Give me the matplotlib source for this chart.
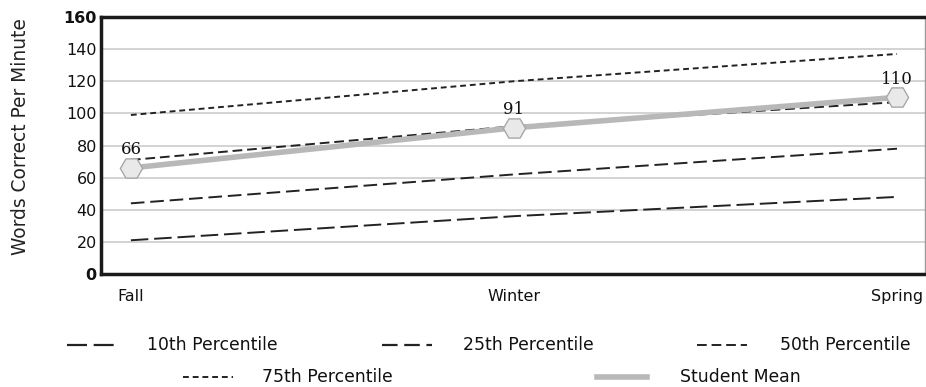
import matplotlib.pyplot as plt
from matplotlib.lines import Line2D

# Oral reading fluency benchmarks across the school year
seasons = ['Fall', 'Winter', 'Spring']
p10 = [21, 36, 48]
p25 = [44, 62, 78]
p50 = [71, 92, 107]
p75 = [99, 120, 137]
student_mean = [66, 91, 110]

fig = plt.figure(figsize=(9.26, 3.87), dpi=100)
ax = fig.add_axes([101 / 926, 1 - 274 / 387, 824 / 926, 257 / 387])

x = list(range(len(seasons)))
styles = {
    '10th Percentile': (p10, (0, (9, 3))),
    '25th Percentile': (p25, (0, (7, 3))),
    '50th Percentile': (p50, (0, (5, 2.5))),
    '75th Percentile': (p75, (0, (3, 2))),
}
for name, (vals, ls) in styles.items():
    ax.plot(x, vals, color='#222222', lw=1.4, linestyle=ls, zorder=3)

ax.plot(x, student_mean, color='#b8b8b8', lw=4, zorder=4,
        marker='H', markersize=16, markerfacecolor='#e9e9e9',
        markeredgecolor='#a8a8a8', markeredgewidth=1)
for xi, v in zip(x, student_mean):
    ax.annotate(str(v), (xi, v), xytext=(0, 7), textcoords='offset points',
                ha='center', va='bottom', fontsize=12, family='DejaVu Serif',
                color='#111111', zorder=5)

ax.set_xlim(-0.078, 2.073)
ax.set_ylim(0, 160)
ax.set_yticks(range(0, 161, 20))
ax.set_xticks(x)
ax.set_xticklabels(seasons)
ax.tick_params(length=0, labelsize=11.5, labelcolor='#111111')
ax.tick_params(axis='y', pad=3)
ax.tick_params(axis='x', pad=11)
for lab in ax.get_yticklabels():
    if lab.get_text() in ('0', '160'):
        lab.set_fontweight('bold')
ax.grid(axis='y', color='#cccccc', lw=1.2)
ax.set_axisbelow(True)
for side in ('left', 'bottom', 'top'):
    ax.spines[side].set_linewidth(2.5)
    ax.spines[side].set_color('#1a1a1a')
ax.spines['right'].set_linewidth(1)
ax.spines['right'].set_color('#999999')

fig.text(21 / 926, 1 - 137 / 387, 'Words Correct Per Minute', rotation=90,
         ha='center', va='center', fontsize=13.4, color='#222222')

# legend laid out by hand: three entries on top, two below
entries = [
    ('10th Percentile', 67, 147, 345, dict(color='#222222', lw=1.6, linestyle=(0, (9, 3)))),
    ('25th Percentile', 382, 463, 345, dict(color='#222222', lw=1.6, linestyle=(0, (7, 3)))),
    ('50th Percentile', 697, 780, 345, dict(color='#222222', lw=1.4, linestyle=(0, (5, 2.5)))),
    ('75th Percentile', 183, 262, 377, dict(color='#222222', lw=1.4, linestyle=(0, (3, 2)))),
    ('Student Mean', 597, 680, 377, dict(color='#b8b8b8', lw=4)),
]
for label, hx, tx, ty, kw in entries:
    fy = 1 - ty / 387
    fig.add_artist(Line2D([hx / 926, (hx + 50) / 926], [fy, fy],
                          transform=fig.transFigure, **kw))
    fig.text(tx / 926, fy, label, ha='left', va='center', fontsize=12.4,
             color='#111111')

fig.savefig('out.png', dpi=100)
